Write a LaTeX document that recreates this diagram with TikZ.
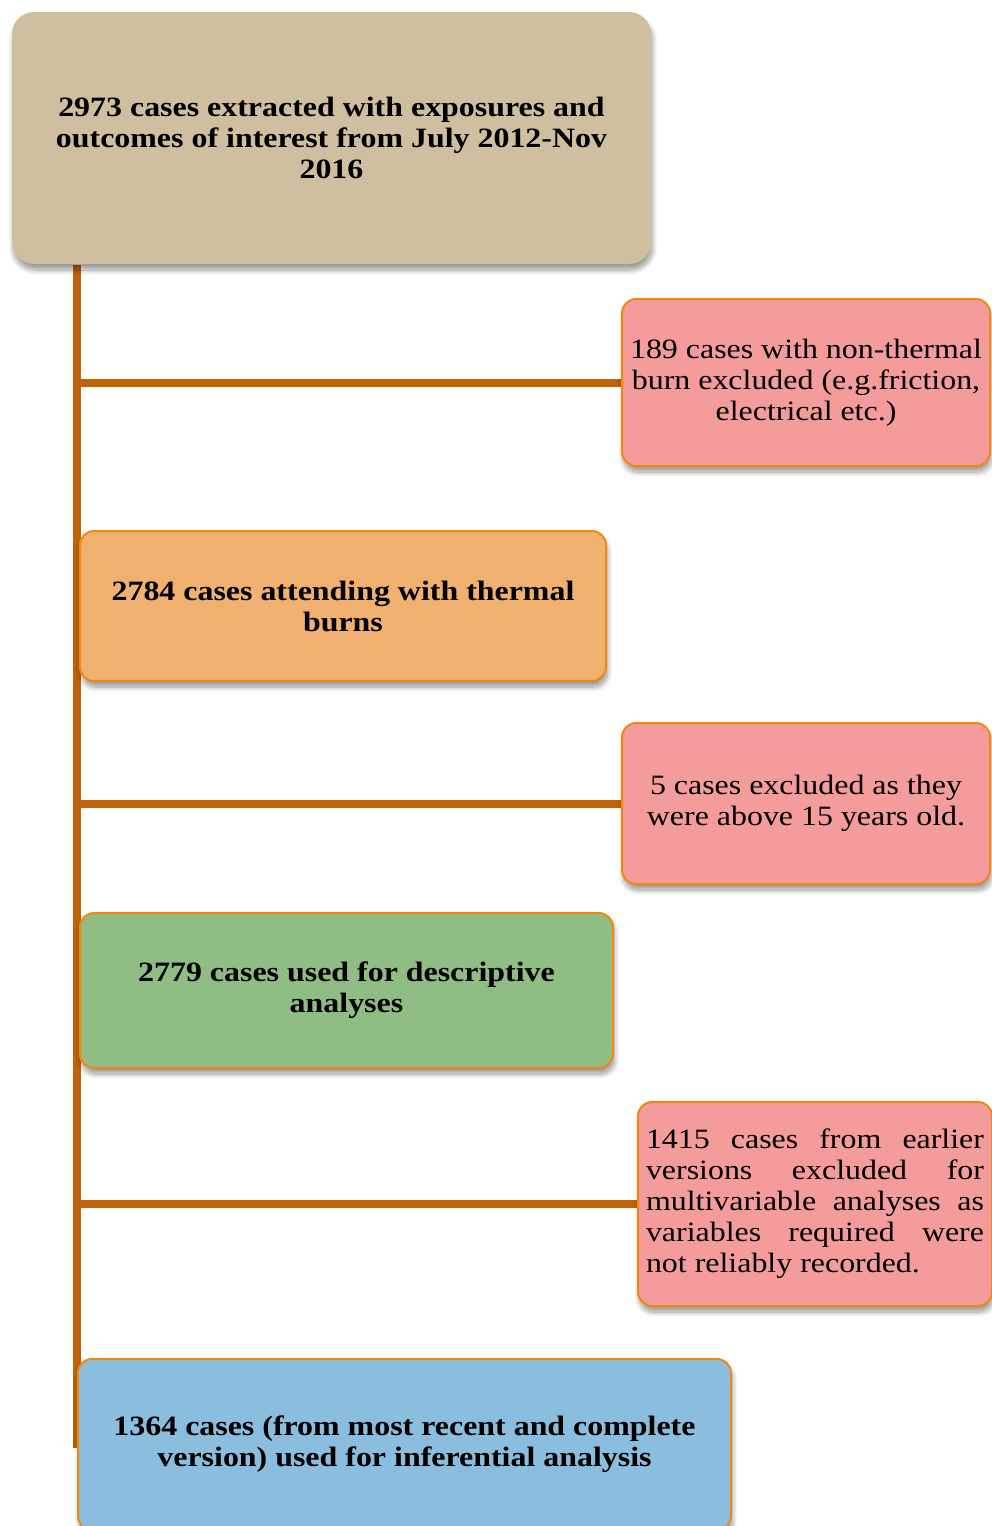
\documentclass[tikz,border=0pt]{standalone}
\usepackage{fontspec}
\setmainfont{Liberation Serif}[FakeStretch=1.14]
\usetikzlibrary{shadows.blur,backgrounds}

\definecolor{spinecol}{RGB}{192,98,10}
\definecolor{edgecol}{RGB}{240,136,18}
\definecolor{tanfill}{RGB}{207,190,160}
\definecolor{pinkfill}{RGB}{244,155,155}
\definecolor{orangefill}{RGB}{240,176,112}
\definecolor{greenfill}{RGB}{143,189,132}
\definecolor{bluefill}{RGB}{139,190,222}

\tikzset{
  stage/.style={rectangle, rounded corners=14pt, draw=edgecol, line width=2pt,
    inner sep=0pt, align=center, font=\fontsize{28}{31}\selectfont,
    blur shadow={shadow xshift=1.5pt, shadow yshift=-6pt, shadow opacity=40,
      shadow blur steps=12, shadow blur radius=5pt}},
  keystage/.style={stage, font=\fontsize{28}{31}\selectfont\bfseries},
  exclusion/.style={stage, fill=pinkfill},
  link/.style={draw=spinecol, line width=8pt}
}

\begin{document}
\begin{tikzpicture}[x=1pt,y=-1pt]
\useasboundingbox (0,0) rectangle (992,1526);
\clip (0,0) rectangle (992,1526);

% main stages down the left side
\node[keystage, draw=none, fill=tanfill, rounded corners=22pt,
      minimum width=639pt, minimum height=252pt] (extracted) at (331.5,138)
  {2973 cases extracted with exposures and\\outcomes of interest from July 2012-Nov\\2016};
\node[keystage, fill=orangefill, minimum width=526pt, minimum height=150pt]
  (thermal) at (343,606) {2784 cases attending with thermal\\burns};
\node[keystage, fill=greenfill, minimum width=533pt, minimum height=155pt]
  (descriptive) at (346.5,990.5) {2779 cases used for descriptive\\analyses};
\node[keystage, fill=bluefill, minimum width=653pt, minimum height=171pt]
  (inferential) at (404.5,1444.5)
  {1364 cases (from most recent and complete\\version) used for inferential analysis};

% exclusions on the right
\node[exclusion, minimum width=368pt, minimum height=167pt] (nonthermal) at (806,382.5)
  {189 cases with non-thermal\\burn excluded (e.g.friction,\\electrical etc.)};
\node[exclusion, minimum width=368pt, minimum height=161pt] (age) at (806,803.5)
  {5 cases excluded as they\\were above 15 years old.};
\node[exclusion, minimum width=354pt, minimum height=204pt, text width=338pt,
      align=justify] (versions) at (815,1204)
  {1415 cases from earlier\linebreak versions excluded for\linebreak
   multivariable analyses as\linebreak variables required were\linebreak
   not reliably recorded.};

% spine and branches
\coordinate (spineend) at (77,1448);
\begin{pgfonlayer}{background}
  \draw[link] (extracted.south -| spineend) -- (spineend);
  \draw[link] (nonthermal.west -| spineend) -- (nonthermal.west);
  \draw[link] (age.west -| spineend) -- (age.west);
  \draw[link] (versions.west -| spineend) -- (versions.west);
\end{pgfonlayer}
\end{tikzpicture}
\end{document}
